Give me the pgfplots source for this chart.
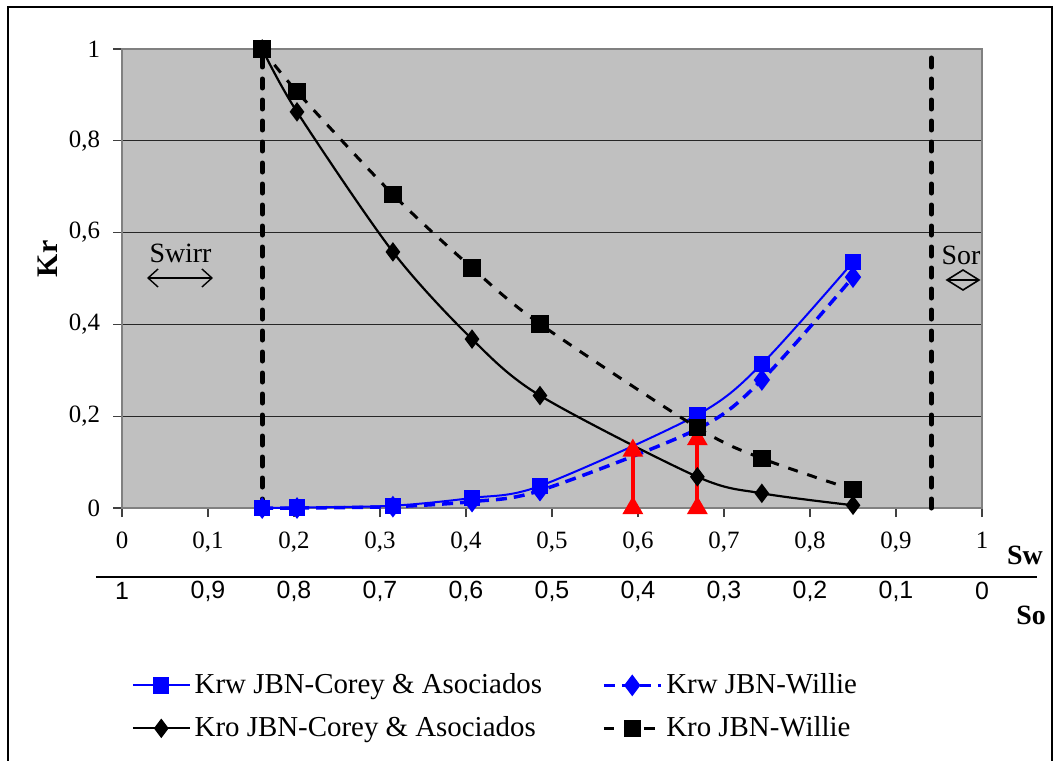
\documentclass[border=0pt]{standalone}
\usepackage{pgfplots}
\pgfplotsset{compat=1.18}
\usetikzlibrary{arrows.meta}
\usepackage{fontspec}
\setmainfont{Liberation Serif}
\newfontfamily\arial{Liberation Sans}
\definecolor{plotgray}{HTML}{C0C0C0}
\definecolor{framegray}{HTML}{808080}
\definecolor{xblue}{HTML}{0000FF}
\definecolor{xred}{HTML}{FF0000}
\begin{document}
\begin{tikzpicture}
\begin{axis}[
  at={(0,0)}, anchor=south west,
  scale only axis, width=430bp, height=229.5bp,
  xmin=0, xmax=1, ymin=0, ymax=1,
  xtick={0,0.1,0.2,0.3,0.4,0.5,0.6,0.7,0.8,0.9,1},
  ytick={0,0.2,0.4,0.6,0.8,1},
  xtick pos=left, ytick pos=left,
  ymajorgrids, grid style={black!85, line width=0.5bp},
  axis background/.style={fill=plotgray},
  axis line style={framegray, line width=1.2bp},
  tick align=outside, major tick length=4.5bp,
  tick style={black!75, line width=0.6bp},
  /pgf/number format/use comma,
  /pgf/number format/assume math mode=true,
  ticklabel style={font=\fontsize{12.5}{14}\selectfont},
  xticklabel style={yshift=-4bp},
  yticklabel style={xshift=-3bp},
  clip=false,
  legend columns=2,
  legend cell align=left,
  legend style={draw=none, fill=none, at={(axis cs:0.004,-0.343)}, anchor=north west,
    font=\fontsize{14.5}{17}\selectfont, row sep=6bp,
    /tikz/every even column/.append style={column sep=28bp}},
  legend image code/.code={\draw[mark repeat=2,mark phase=2] plot coordinates {(0cm,0cm) (0.5cm,0cm) (1cm,0cm)};},
]
% vertical dashed limits
\addplot[forget plot, black, line width=2.5bp, line cap=round, dash pattern=on 4.5bp off 6bp]
  coordinates {(0.163,0) (0.163,1)};
\addplot[forget plot, black, line width=2.5bp, line cap=round, dash pattern=on 4.5bp off 6bp]
  coordinates {(0.941,0) (0.941,1)};
% Krw Corey
\addplot[xblue, line width=1bp, smooth, mark=square*, mark size=3.6bp, mark options={solid}]
  coordinates {(0.163,0) (0.2035,0.001) (0.315,0.005) (0.407,0.022) (0.486,0.048) (0.669,0.203) (0.744,0.314) (0.850,0.536)};
\addlegendentry{Krw JBN-Corey \& Asociados}
% Krw Willie
\addplot[xblue, line width=1.75bp, smooth, dash pattern=on 5.5bp off 3.5bp, mark=diamond*, mark size=4bp, mark options={solid}]
  coordinates {(0.163,0) (0.2035,0) (0.315,0.003) (0.407,0.014) (0.486,0.038) (0.669,0.172) (0.744,0.279) (0.850,0.503)};
\addlegendentry{Krw JBN-Willie}
% red arrows
\addplot[forget plot, xred, line width=2bp, mark=triangle*, mark size=4bp, mark options={solid}]
  coordinates {(0.594,0) (0.594,0.125)};
\addplot[forget plot, xred, line width=2bp, mark=triangle*, mark size=4bp, mark options={solid}]
  coordinates {(0.669,0) (0.669,0.150)};
% Kro Corey
\addplot[black, line width=1.1bp, smooth, mark=diamond*, mark size=4bp, mark options={solid}]
  coordinates {(0.163,1) (0.2035,0.863) (0.315,0.558) (0.407,0.368) (0.486,0.245) (0.669,0.068) (0.744,0.032) (0.850,0.006)};
\addlegendentry{Kro JBN-Corey \& Asociados}
% Kro Willie
\addplot[black, line width=1.5bp, smooth, dash pattern=on 5bp off 5bp, mark=square*, mark size=3.6bp, mark options={solid}]
  coordinates {(0.163,1) (0.2035,0.907) (0.315,0.683) (0.407,0.523) (0.486,0.401) (0.669,0.175) (0.744,0.108) (0.850,0.040)};
\addlegendentry{Kro JBN-Willie}
\end{axis}
\begin{scope}[x=0.5bp, y=-0.5bp, shift={(-61bp,254bp)}]
  \pgfresetboundingbox
  \useasboundingbox (0,0) rectangle (1060,761);
  \draw[line width=1bp] (8,775) -- (8,7) -- (1052,7) -- (1052,775);
  % annotations
  \node[font=\fontsize{14}{16}\selectfont] at (180.5,253) {Swirr};
  \draw[line width=0.7bp, {Straight Barb[length=5bp,width=9bp]}-{Straight Barb[length=5bp,width=9bp]}] (147,278) -- (213,278);
  \node[font=\fontsize{14}{16}\selectfont] at (961,255) {Sor};
  \draw[line width=0.8bp] (947,280) -- (963,270) -- (979,280) -- (963,290) -- cycle;
  \draw[line width=0.8bp] (947,280) -- (979,280);
  % axis titles
  \node[rotate=90, font=\bfseries\fontsize{15}{17}\selectfont] at (48,259) {Kr};
  \node[font=\bfseries\fontsize{14}{16}\selectfont] at (1025,555) {Sw};
  \node[font=\bfseries\fontsize{14}{16}\selectfont] at (1031,615) {So};
  % So scale
  \draw[line width=0.8bp] (96,577) -- (1037,577);
  \foreach \i/\t in {0/1,1/{0,9},2/{0,8},3/{0,7},4/{0,6},5/{0,5},6/{0,4},7/{0,3},8/{0,2},9/{0,1},10/0}
    \node[font=\arial\fontsize{12.5}{14}\selectfont] at (122+86*\i,591) {\t};
\end{scope}
\end{tikzpicture}
\end{document}
